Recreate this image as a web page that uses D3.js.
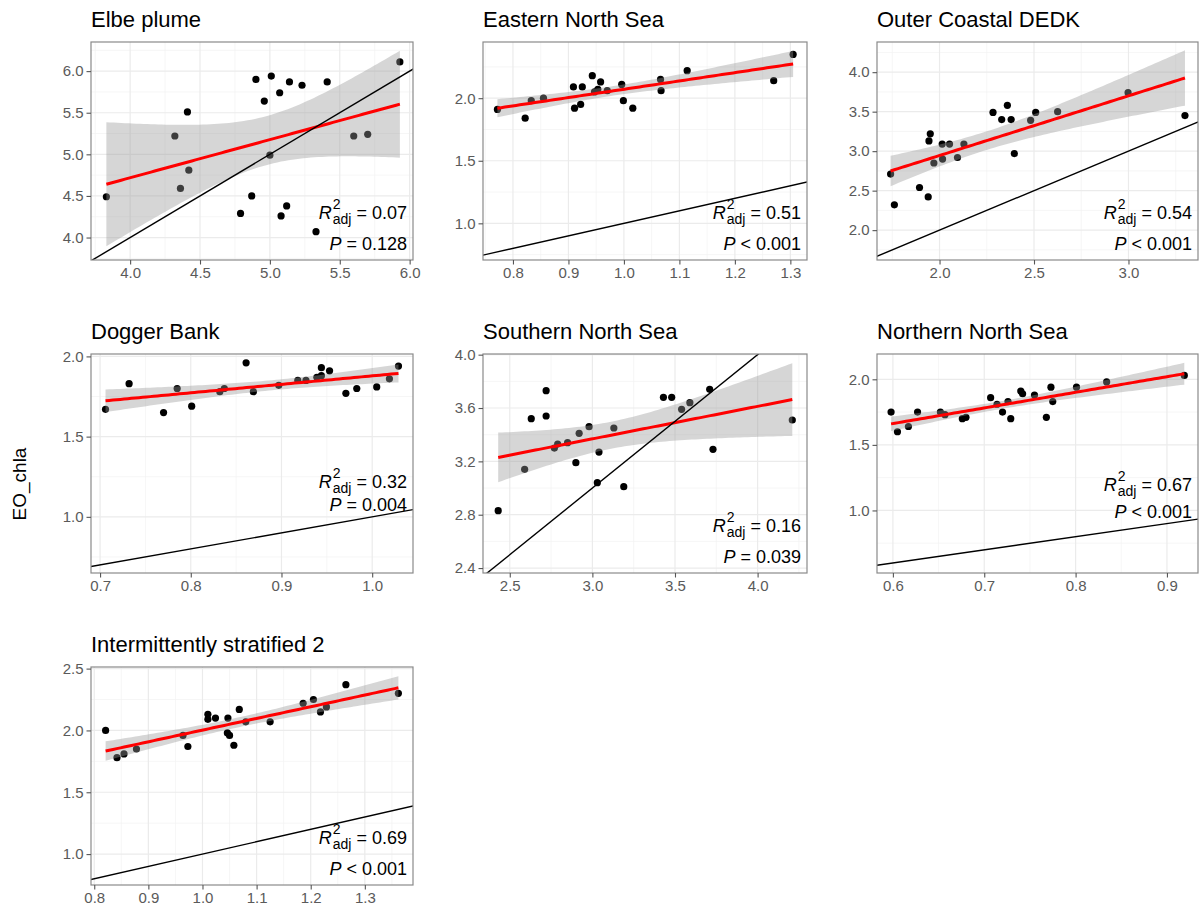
<!DOCTYPE html>
<html>
<head>
<meta charset="utf-8">
<script src="https://cdn.jsdelivr.net/npm/d3@7"></script>
<style>
  body { margin: 0; background: #fff; }
  svg { display: block; }
  text { font-family: "Liberation Sans", Arial, sans-serif; }
</style>
</head>
<body>
<div id="chart"></div>
<script>
// ---- values ----
const panelNames = ["Elbe plume", "Eastern North Sea", "Outer Coastal DEDK",
  "Dogger Bank", "Southern North Sea", "Northern North Sea", "Intermittently stratified 2"];

const elbeX = [3.83,4.32,4.41,4.36,4.42,4.79,4.87,4.90,4.96,5.00,5.01,5.07,5.08,5.12,5.14,5.23,5.33,5.41,5.60,5.70,5.93];
const elbeY = [4.49,5.22,5.51,4.59,4.81,4.29,4.50,5.90,5.64,4.99,5.94,5.74,4.26,4.38,5.87,5.83,4.07,5.87,5.22,5.24,6.11];

const easternX = [0.772,0.822,0.833,0.855,0.909,0.911,0.922,0.925,0.943,0.947,0.953,0.958,0.970,0.996,0.999,1.016,1.066,1.067,1.114,1.270,1.305];
const easternY = [1.91,1.84,1.98,2.00,2.09,1.92,1.95,2.09,2.18,2.05,2.07,2.13,2.06,2.11,1.98,1.92,2.15,2.06,2.22,2.14,2.35];

const outerX = [1.741,1.761,1.894,1.940,1.944,1.951,1.970,2.014,2.016,2.053,2.095,2.129,2.283,2.329,2.359,2.379,2.396,2.482,2.509,2.625,2.998,3.299];
const outerY = [2.71,2.32,2.54,2.42,3.13,3.22,2.85,3.09,2.90,3.09,2.92,3.09,3.49,3.40,3.58,3.40,2.97,3.39,3.49,3.50,3.74,3.45];

const doggerX = [0.706,0.732,0.770,0.785,0.801,0.832,0.837,0.861,0.869,0.897,0.918,0.927,0.939,0.944,0.944,0.953,0.971,0.983,1.005,1.019,1.029];
const doggerY = [1.67,1.83,1.65,1.80,1.69,1.78,1.80,1.96,1.78,1.82,1.85,1.85,1.87,1.93,1.88,1.91,1.77,1.80,1.81,1.86,1.94];

const southernX = [2.43,2.59,2.63,2.72,2.72,2.77,2.79,2.85,2.90,2.92,2.98,3.03,3.04,3.13,3.19,3.43,3.48,3.54,3.59,3.71,3.73,4.21];
const southernY = [2.83,3.14,3.52,3.73,3.54,3.30,3.33,3.34,3.19,3.41,3.46,3.04,3.27,3.45,3.01,3.68,3.68,3.59,3.64,3.74,3.29,3.51];

const northernX = [0.598,0.605,0.617,0.627,0.652,0.657,0.676,0.680,0.707,0.714,0.720,0.726,0.729,0.740,0.742,0.755,0.768,0.773,0.775,0.801,0.834,0.919];
const northernY = [1.75,1.60,1.64,1.75,1.75,1.73,1.70,1.71,1.86,1.81,1.75,1.83,1.70,1.91,1.89,1.88,1.71,1.94,1.83,1.94,1.98,2.03];

const interX = [0.821,0.842,0.855,0.878,0.964,0.973,1.010,1.010,1.024,1.047,1.046,1.050,1.058,1.068,1.080,1.125,1.186,1.205,1.218,1.229,1.265,1.362];
const interY = [2.00,1.78,1.81,1.85,1.96,1.87,2.13,2.09,2.10,2.10,1.98,1.96,1.88,2.17,2.07,2.07,2.22,2.25,2.15,2.19,2.37,2.30];

const xLimits = [[3.72,6.024],[0.746,1.330],[1.669,3.368],[0.690,1.045],[2.338,4.299],[0.5826,0.934],[0.794,1.389]];
const yLimits = [[3.73,6.35],[0.707,2.449],[1.622,4.382],[0.65,2.015],[2.363,4.005],[0.523,2.193],[0.75,2.513]];

const xTicks = [[4.0,4.5,5.0,5.5,6.0],[0.8,0.9,1.0,1.1,1.2,1.3],[2.0,2.5,3.0],[0.7,0.8,0.9,1.0],
  [2.5,3.0,3.5,4.0],[0.6,0.7,0.8,0.9],[0.8,0.9,1.0,1.1,1.2,1.3]];
const yTicks = [[4.0,4.5,5.0,5.5,6.0],[1.0,1.5,2.0],[2.0,2.5,3.0,3.5,4.0],[1.0,1.5,2.0],
  [2.4,2.8,3.2,3.6,4.0],[1.0,1.5,2.0],[1.0,1.5,2.0,2.5]];

const r2Labels = ["0.07","0.51","0.54","0.32","0.16","0.67","0.69"];
const pLabels = ["= 0.128","< 0.001","< 0.001","= 0.004","= 0.039","< 0.001","< 0.001"];

const xSeries = [elbeX, easternX, outerX, doggerX, southernX, northernX, interX];
const ySeries = [elbeY, easternY, outerY, doggerY, southernY, northernY, interY];

// ---- layout ----
const W = 1201, H = 910;
const colX = [[91,413],[483,807],[877,1198]];
const rowY = [[42,260],[354,573],[667,885]];
// baseline offsets of the two stat lines above the panel bottom
const labelOffsets = [[41,10],[41,10],[41,10],[85,62],[41,10],[82,55],[41,10]];

const svg = d3.select("#chart").append("svg")
  .attr("width", W).attr("height", H);

// y-axis title
svg.append("text")
  .attr("transform", "translate(26,484) rotate(-90)")
  .attr("text-anchor", "middle")
  .style("font-size", "19px")
  .text("EO_chla");

// linear fit with 95% confidence band (like geom_smooth(method = "lm"))
function tQuant(df) {
  const z = 1.959964;
  return z + (z**3 + z) / (4*df) + (5*z**5 + 16*z**3 + 3*z) / (96*df*df)
    + (3*z**7 + 19*z**5 + 17*z**3 - 15*z) / (384*df**3);
}
function lmBand(xs, ys) {
  const n = xs.length;
  const mx = d3.mean(xs), my = d3.mean(ys);
  let sxx = 0, sxy = 0;
  xs.forEach((x, i) => { sxx += (x-mx)**2; sxy += (x-mx)*(ys[i]-my); });
  const b = sxy / sxx, a = my - b*mx;
  let sse = 0;
  xs.forEach((x, i) => { sse += (ys[i] - a - b*x)**2; });
  const s = Math.sqrt(sse / (n-2));
  const t = tQuant(n-2);
  const [x0, x1] = d3.extent(xs);
  return d3.range(80).map(i => {
    const x = x0 + i*(x1-x0)/79;
    const fit = a + b*x;
    const se = s * Math.sqrt(1/n + (x-mx)**2/sxx);
    return {x: x, fit: fit, lo: fit - t*se, hi: fit + t*se};
  });
}

function minorOf(ticks, dom) {
  const step = ticks[1] - ticks[0];
  const m = ticks.map(v => v - step/2).concat([ticks[ticks.length-1] + step/2]);
  return m.filter(v => v > dom[0] && v < dom[1]);
}

function statLabel(g, xR, yBase, lead, value, sub) {
  const val = g.append("text")
    .attr("x", xR).attr("y", yBase)
    .attr("text-anchor", "end")
    .style("font-size", "18px")
    .text("\u00a0" + value);
  const w = val.node().getComputedTextLength();
  let xs = xR - w;
  if (sub) {
    const sb = g.append("text")
      .attr("x", xs).attr("y", yBase + 5)
      .attr("text-anchor", "end")
      .style("font-size", "14px")
      .text("adj");
    xs -= sb.node().getComputedTextLength() + 1;
    g.append("text")
      .attr("x", xs + 1).attr("y", yBase - 10)
      .style("font-size", "14px")
      .text("2");
  }
  g.append("text")
    .attr("x", xs).attr("y", yBase)
    .attr("text-anchor", "end")
    .style("font-size", "18px")
    .style("font-style", "italic")
    .text(lead);
}

panelNames.forEach((name, i) => {
  const col = i % 3, row = Math.floor(i / 3);
  const [left, right] = colX[col], [top, bottom] = rowY[row];

  const x = d3.scaleLinear().domain(xLimits[i]).range([left, right]);
  const y = d3.scaleLinear().domain(yLimits[i]).range([bottom, top]);

  const g = svg.append("g");

  g.append("clipPath").attr("id", "clip" + i)
    .append("rect")
    .attr("x", left).attr("y", top)
    .attr("width", right - left).attr("height", bottom - top);

  // minor grid
  g.selectAll(".mx").data(minorOf(xTicks[i], xLimits[i])).enter().append("line")
    .attr("x1", d => x(d)).attr("x2", d => x(d))
    .attr("y1", top).attr("y2", bottom)
    .attr("stroke", "#f2f2f2").attr("stroke-width", 0.7);
  g.selectAll(".my").data(minorOf(yTicks[i], yLimits[i])).enter().append("line")
    .attr("y1", d => y(d)).attr("y2", d => y(d))
    .attr("x1", left).attr("x2", right)
    .attr("stroke", "#f2f2f2").attr("stroke-width", 0.7);
  // major grid
  g.selectAll(".gx").data(xTicks[i]).enter().append("line")
    .attr("x1", d => x(d)).attr("x2", d => x(d))
    .attr("y1", top).attr("y2", bottom)
    .attr("stroke", "#ebebeb").attr("stroke-width", 1.2);
  g.selectAll(".gy").data(yTicks[i]).enter().append("line")
    .attr("y1", d => y(d)).attr("y2", d => y(d))
    .attr("x1", left).attr("x2", right)
    .attr("stroke", "#ebebeb").attr("stroke-width", 1.2);

  const plot = g.append("g").attr("clip-path", "url(#clip" + i + ")");

  // points
  plot.selectAll("circle")
    .data(xSeries[i].map((v, k) => [v, ySeries[i][k]]))
    .enter().append("circle")
    .attr("cx", d => x(d[0])).attr("cy", d => y(d[1]))
    .attr("r", 3.6)
    .attr("fill", "#000");

  // smooth
  const band = lmBand(xSeries[i], ySeries[i]);
  plot.append("path")
    .datum(band)
    .attr("d", d3.area().x(d => x(d.x)).y0(d => y(d.lo)).y1(d => y(d.hi)))
    .attr("fill", "#999999").attr("fill-opacity", 0.4);
  plot.append("path")
    .datum(band)
    .attr("d", d3.line().x(d => x(d.x)).y(d => y(d.fit)))
    .attr("fill", "none").attr("stroke", "#ff0000").attr("stroke-width", 3);

  // 1:1 line
  const lo = Math.min(xLimits[i][0], yLimits[i][0]) - 1;
  const hi = Math.max(xLimits[i][1], yLimits[i][1]) + 1;
  plot.append("line")
    .attr("x1", x(lo)).attr("y1", y(lo))
    .attr("x2", x(hi)).attr("y2", y(hi))
    .attr("stroke", "#000").attr("stroke-width", 1.4);

  // border
  g.append("rect")
    .attr("x", left).attr("y", top)
    .attr("width", right - left).attr("height", bottom - top)
    .attr("fill", "none").attr("stroke", "#8a8a8a").attr("stroke-width", 1.2);

  // axes
  const xAxis = g.append("g")
    .attr("transform", `translate(0,${bottom})`)
    .call(d3.axisBottom(x).tickValues(xTicks[i]).tickFormat(d3.format(".1f")).tickSize(4.5).tickPadding(3));
  const yAxis = g.append("g")
    .attr("transform", `translate(${left},0)`)
    .call(d3.axisLeft(y).tickValues(yTicks[i]).tickFormat(d3.format(".1f")).tickSize(4.5).tickPadding(3));
  [xAxis, yAxis].forEach(ax => {
    ax.select(".domain").remove();
    ax.selectAll(".tick line").attr("stroke", "#555").attr("stroke-width", 1.1);
    ax.selectAll(".tick text")
      .attr("fill", "#5a5a5a")
      .style("font-size", "15px")
      .style("font-family", "'Liberation Sans', Arial, sans-serif");
  });

  // title
  g.append("text")
    .attr("x", left).attr("y", top - 15)
    .style("font-size", "22px")
    .text(name);

  // stat labels
  const lab = g.append("g");
  statLabel(lab, right - 6, bottom - labelOffsets[i][0], "R", "= " + r2Labels[i], true);
  statLabel(lab, right - 6, bottom - labelOffsets[i][1], "P", pLabels[i], false);
});
</script>
</body>
</html>
